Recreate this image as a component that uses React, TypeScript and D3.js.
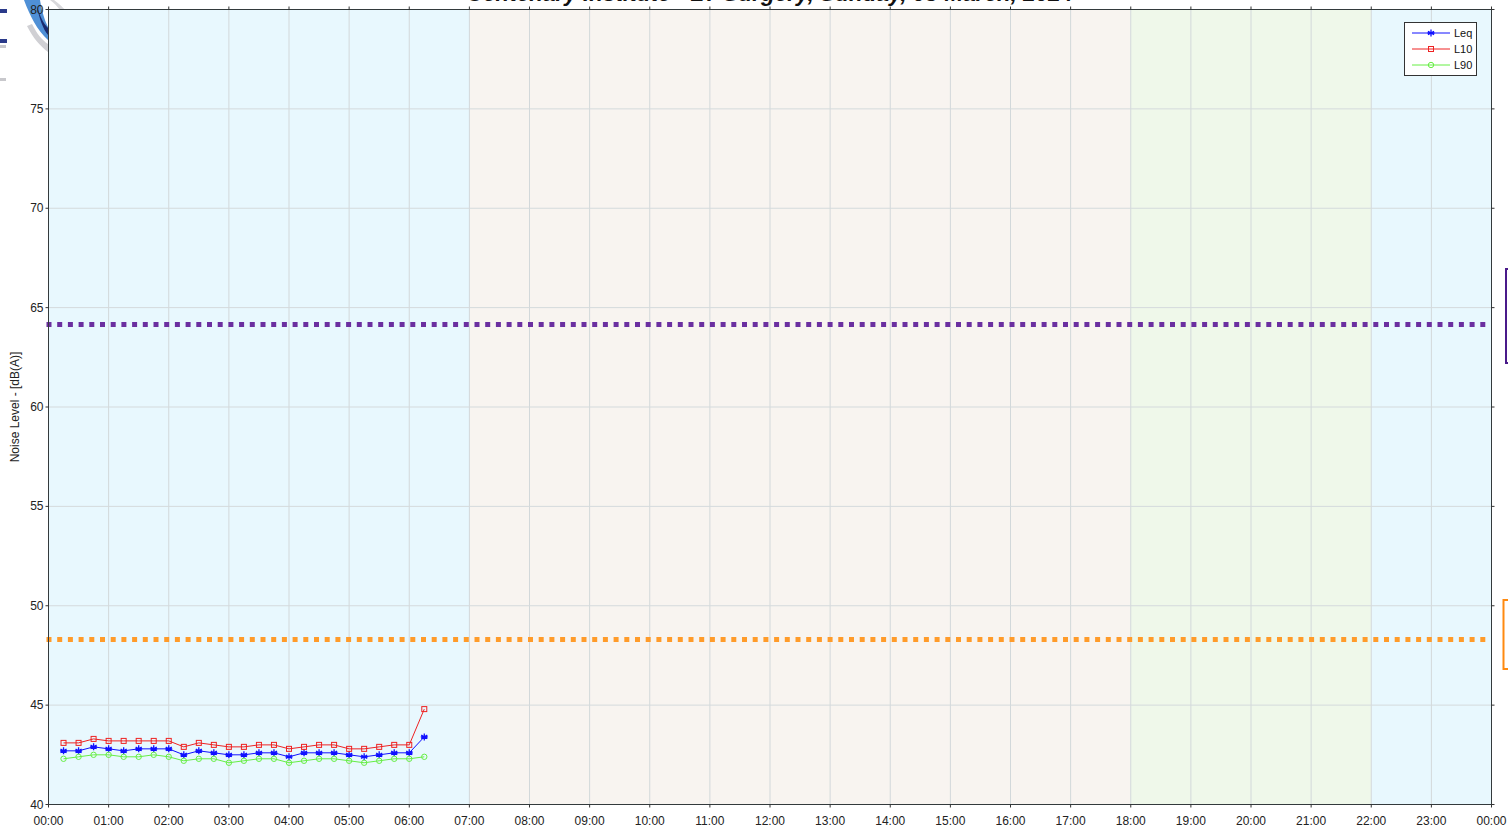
import React from "react";
import * as d3 from "d3";

const W = 1508;
const H = 832;

const startMinutes = 15;
const stepMinutes = 15;
const leqValues = [42.7, 42.7, 42.9, 42.8, 42.7, 42.8, 42.8, 42.8, 42.5, 42.7, 42.6, 42.5, 42.5, 42.6, 42.6, 42.4, 42.6, 42.6, 42.6, 42.5, 42.4, 42.5, 42.6, 42.6, 43.4];
const l10Values = [43.1, 43.1, 43.3, 43.2, 43.2, 43.2, 43.2, 43.2, 42.9, 43.1, 43.0, 42.9, 42.9, 43.0, 43.0, 42.8, 42.9, 43.0, 43.0, 42.8, 42.8, 42.9, 43.0, 43.0, 44.8];
const l90Values = [42.3, 42.4, 42.5, 42.5, 42.4, 42.4, 42.5, 42.4, 42.2, 42.3, 42.3, 42.1, 42.2, 42.3, 42.3, 42.1, 42.2, 42.3, 42.3, 42.2, 42.1, 42.2, 42.3, 42.3, 42.4];

const hourTicks = d3.range(0, 25);
const yTicks = [40, 45, 50, 55, 60, 65, 70, 75, 80];
const bands = [
  { from: 0, to: 7, color: "#e8f8fe" },
  { from: 7, to: 18, color: "#f8f4f0" },
  { from: 18, to: 22, color: "#eff8ea" },
  { from: 22, to: 24, color: "#e8f8fe" },
];
const thresholds = [
  { value: 64.15, color: "#6b2fa0" },
  { value: 48.3, color: "#ff9b2a" },
];
const title = "Centenary Institute - LY Surgery, Sunday, 03 March, 2024";

const series = [
  { name: "Leq", values: leqValues, color: "#1010ff", marker: "star" },
  { name: "L10", values: l10Values, color: "#ee2222", marker: "square" },
  { name: "L90", values: l90Values, color: "#66ee44", marker: "circle" },
];

const left = 48.5;
const right = 1491.5;
const top = 9.5;
const bottom = 804.5;

function Marker({ type, x, y, color }: { type: string; x: number; y: number; color: string }) {
  if (type === "square") {
    return <rect x={x - 2.5} y={y - 2.5} width={5} height={5} fill="none" stroke={color} strokeWidth={1} />;
  }
  if (type === "circle") {
    return <circle cx={x} cy={y} r={2.7} fill="none" stroke={color} strokeWidth={1} />;
  }
  const r = 3.5;
  const d = [0, 60, 120].map((a) => {
    const rad = (a * Math.PI) / 180;
    const dx = Math.sin(rad) * r;
    const dy = Math.cos(rad) * r;
    return `M${x - dx},${y - dy}L${x + dx},${y + dy}`;
  }).join("") + `M${x - r},${y}L${x + r},${y}`;
  return <path d={d} stroke={color} strokeWidth={1.3} fill="none" />;
}

export default function App() {
  const x = d3.scaleLinear().domain([0, 24 * 60]).range([left, right]);
  const y = d3.scaleLinear().domain([40, 80]).range([bottom, top]);
  const line = d3
    .line<number>()
    .x((_, i) => x(startMinutes + i * stepMinutes))
    .y((v) => y(v));
  const fmt = (h: number) => `${String(h % 24).padStart(2, "0")}:00`;

  return (
    <svg width={W} height={H} style={{ position: "absolute", left: 0, top: 0, fontFamily: "Liberation Sans, Arial, sans-serif" }}>
      <rect width={W} height={H} fill="#ffffff" />
      {/* logo fragments */}
      <g>
        <path d="M54,0 C62,6 68,12 74,22 L66,22 C62,12 58,6 50,0 Z" fill="#d8d8db" />
        <path d="M27,26 C33,38 40,46 48,52 L48,44 C42,40 37,34 32,24 Z" fill="#d0d0d4" />
        <path d="M24,0 L40,0 C42,12 45,21 48,27 L48,40 C37,30 30,16 24,0 Z" fill="#4f90d6" />
        <path d="M37,6 C40,17 44,24 48,28 L48,35 C43,29 39,18 37,6 Z" fill="#1a2a6e" />
        <rect x={0} y={9} width={7} height={4} fill="#2a3a8a" />
        <rect x={0} y={39} width={7} height={4} fill="#2a3a8a" />
        <rect x={0} y={45} width={6} height={3} fill="#c8c8cc" />
        <rect x={0} y={78} width={6} height={3} fill="#c8c8cc" />
      </g>
      <text x={770} y={1} textAnchor="middle" fontSize={22.5} fontWeight="bold" fontStyle="italic" fill="#111">
        {title}
      </text>
      {bands.map((b) => (
        <rect key={b.from} x={x(b.from * 60)} y={top} width={x(b.to * 60) - x(b.from * 60)} height={bottom - top} fill={b.color} />
      ))}
      {hourTicks.slice(1, -1).map((h) => (
        <line key={"vg" + h} x1={x(h * 60)} x2={x(h * 60)} y1={top} y2={bottom} stroke="#d2d8da" strokeWidth={1} />
      ))}
      {yTicks.slice(1, -1).map((v) => (
        <line key={"hg" + v} x1={left} x2={right} y1={y(v)} y2={y(v)} stroke="#d4dadc" strokeWidth={1} />
      ))}
      {thresholds.map((t) => (
        <line key={t.value} x1={left - 2} x2={right} y1={y(t.value)} y2={y(t.value)} stroke={t.color} strokeWidth={5} strokeDasharray="5,5.7" />
      ))}
      {series.map((s) => (
        <g key={s.name}>
          <path d={line(s.values) || ""} fill="none" stroke={s.color} strokeWidth={1} />
          {s.values.map((v, i) => (
            <Marker key={i} type={s.marker} x={x(startMinutes + i * stepMinutes)} y={y(v)} color={s.color} />
          ))}
        </g>
      ))}
      {/* axes */}
      <rect x={left} y={top} width={right - left} height={bottom - top} fill="none" stroke="#333a3c" strokeWidth={1} />
      {hourTicks.map((h) => (
        <g key={"xt" + h}>
          <line x1={x(h * 60)} x2={x(h * 60)} y1={bottom} y2={bottom + 3} stroke="#333" />
          <line x1={x(h * 60)} x2={x(h * 60)} y1={top} y2={top - 3} stroke="#333" />
          <text x={x(h * 60)} y={bottom + 20} textAnchor="middle" fontSize={12} fill="#222">
            {fmt(h)}
          </text>
        </g>
      ))}
      {yTicks.map((v) => (
        <g key={"yt" + v}>
          <line x1={left - 3} x2={left} y1={y(v)} y2={y(v)} stroke="#333" />
          <line x1={right} x2={right + 3} y1={y(v)} y2={y(v)} stroke="#333" />
          <text x={left - 5} y={y(v) + 4} textAnchor="end" fontSize={12} fill="#222">
            {v}
          </text>
        </g>
      ))}
      <text transform={`translate(19,${(top + bottom) / 2}) rotate(-90)`} textAnchor="middle" fontSize={12} fill="#222">
        Noise Level - [dB(A)]
      </text>
      {/* right-side cut-off brackets */}
      <rect x={1506} y={269} width={20} height={94} fill="none" stroke="#4a1a8a" strokeWidth={2} />
      <rect x={1503.5} y={600} width={20} height={69} fill="none" stroke="#ff8a10" strokeWidth={2} />
      {/* legend */}
      <g>
        <rect x={1404.5} y={22.5} width={72} height={53} fill="#ffffff" stroke="#333" strokeWidth={1} />
        {series.map((s, i) => (
          <g key={"lg" + s.name}>
            <line x1={1412} x2={1450} y1={33 + i * 16} y2={33 + i * 16} stroke={s.color} strokeWidth={1} />
            <Marker type={s.marker} x={1431} y={33 + i * 16} color={s.color} />
            <text x={1454} y={37 + i * 16} fontSize={11} fill="#111">
              {s.name}
            </text>
          </g>
        ))}
      </g>
    </svg>
  );
}
